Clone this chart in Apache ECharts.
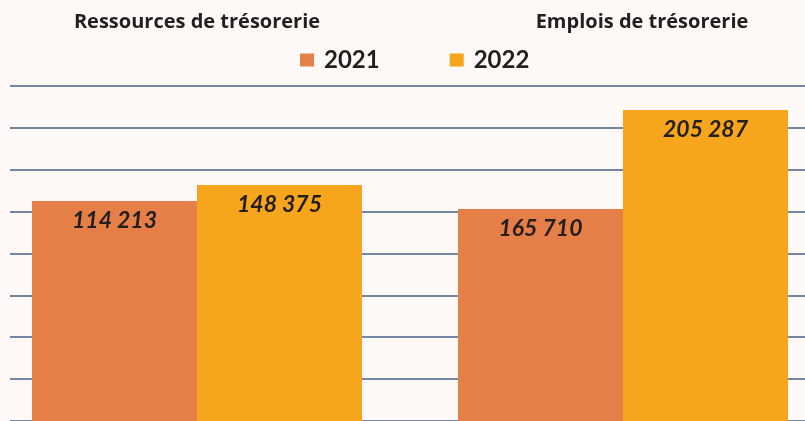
<!DOCTYPE html>
<html>
<head>
<meta charset="utf-8">
<script src="https://cdn.jsdelivr.net/npm/echarts@6/dist/echarts.min.js"></script>
<style>html,body{margin:0;padding:0;background:#fef9f6;}#c{width:805px;height:421px;}</style>
</head>
<body>
<div id="c"></div>
<script>
const categories = ['Ressources de trésorerie', 'Emplois de trésorerie'];
const years = ['2021', '2022'];
const values2021 = [114213, 165710];
const values2022 = [148375, 205287];
const colors = ['#e67e48', '#f7a51d'];

const fmt = v => String(v).replace(/\B(?=(\d{3})+(?!\d))/g, ' ');
const labelStyle = {
  show: true, position: 'insideTop', distance: 8,
  fontFamily: 'Lato', fontWeight: 'bold', fontStyle: 'italic', fontSize: 23, color: '#231f20',
  formatter: p => fmt(p.value)
};

// per-group value ranges (each group drawn on its own scale, as in the reference)
const ranges = [[-355515, 359752], [80959, 214882]];
const gridLefts = [32, 458];
const titleCenters = [197, 642];

const grids = [0, 1].map(i => ({ left: gridLefts[i], width: 330, top: 86, bottom: 0 }));
grids.push({ left: 10, right: 0, top: 85.7, height: 339.4 });

const xAxes = [0, 1].map(i => ({
  type: 'category', gridIndex: i, data: [categories[i]], show: false
}));
xAxes.push({ type: 'value', gridIndex: 2, min: 0, max: 1, show: false });

const yAxes = [0, 1].map(i => ({
  type: 'value', gridIndex: i, min: ranges[i][0], max: ranges[i][1], startValue: ranges[i][0],
  show: false, splitLine: { show: false }
}));
yAxes.push({
  type: 'value', gridIndex: 2, min: 0, max: 8, interval: 1,
  axisLine: { show: false }, axisTick: { show: false }, axisLabel: { show: false },
  splitLine: { show: true, lineStyle: { color: '#45608a', width: 1.6 } }
});

const series = [];
[0, 1].forEach(i => {
  [values2021, values2022].forEach((vals, s) => {
    series.push({
      name: years[s], type: 'bar', xAxisIndex: i, yAxisIndex: i,
      data: [vals[i]], barGap: '0%', barCategoryGap: '0%',
      itemStyle: { color: colors[s] }, label: labelStyle, z: 3
    });
  });
});

const chart = echarts.init(document.getElementById('c'), null, { renderer: 'canvas' });
chart.setOption({
  backgroundColor: '#fef9f6',
  animation: false,
  title: categories.map((c, i) => ({
    text: c, left: titleCenters[i], top: 12, textAlign: 'center', padding: 0,
    textStyle: { fontFamily: 'Open Sans', fontWeight: 'bold', fontSize: 20, color: '#231f20' }
  })),
  legend: {
    data: years, left: 300, top: 48, padding: 0, itemGap: 70, itemWidth: 14, itemHeight: 13,
    icon: 'rect', selectedMode: false,
    textStyle: { fontFamily: 'Lato', fontWeight: 'bold', fontSize: 24, color: '#231f20', padding: [0, 0, 0, 5] }
  },
  grid: grids, xAxis: xAxes, yAxis: yAxes, series: series
});
</script>
</body>
</html>
